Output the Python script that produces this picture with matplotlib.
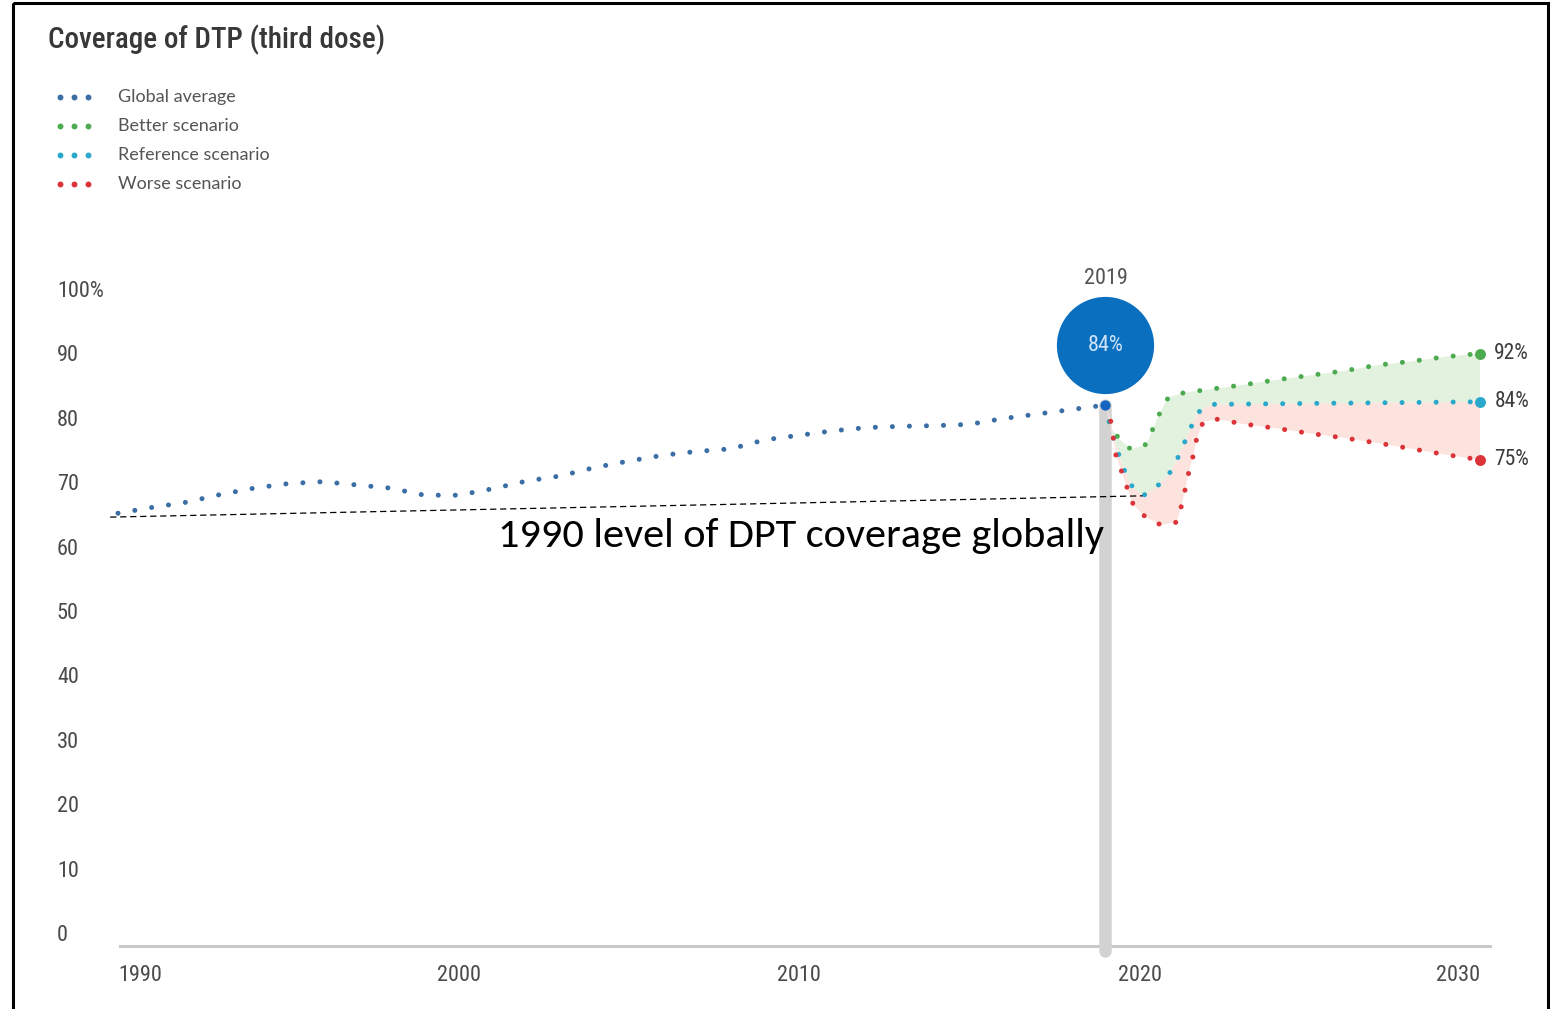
import os
import numpy as np
import matplotlib
matplotlib.use("Agg")
import matplotlib.pyplot as plt
from matplotlib import font_manager as fm
from matplotlib.patches import Rectangle

W, H = 1552, 1009

# ── data ────────────────────────────────────────────────────────────────
years = list(range(1990, 2020))
global_avg = [67.2, 68.1, 68.9, 70.1, 71.1, 71.8, 72.1, 71.6, 71.1, 70.0,
              70.0, 71.0, 72.2, 73.0, 74.3, 75.3, 76.2, 76.8, 77.2, 78.6,
              79.3, 80.0, 80.5, 80.7, 80.8, 81.0, 81.9, 82.6, 83.3, 84.0]

better_x = [2019, 2019.15, 2019.4, 2019.75, 2020.2, 2020.4, 2020.6, 2020.85, 2021.3,
            2022, 2023, 2024, 2025, 2026, 2027, 2028, 2029, 2030]
better = [84.0, 80.5, 78.8, 77.1, 77.9, 80.4, 82.8, 85.2, 85.9,
          86.4, 87.1, 87.9, 88.6, 89.3, 90.2, 90.8, 91.5, 92.0]

ref_x = [2019, 2019.2, 2019.5, 2019.8, 2020.1, 2020.5, 2020.85, 2021.1, 2021.3,
         2021.5, 2021.7, 2022.1, 2024, 2026, 2028, 2030]
ref = [84.0, 79.5, 74.5, 71.2, 69.9, 71.3, 73.1, 75.5, 77.9,
       80.4, 82.8, 84.1, 84.2, 84.3, 84.4, 84.5]

worse_x = [2019, 2019.15, 2019.31, 2019.48, 2019.64, 2019.82, 2020.16, 2020.62, 2021.09,
           2021.24, 2021.35, 2021.45, 2021.58, 2021.68, 2021.87, 2022.3,
           2023, 2024, 2025, 2026, 2027, 2028, 2029, 2030]
worse = [84.0, 81.7, 76.1, 73.6, 71.1, 68.5, 66.7, 65.4, 65.8,
         68.5, 71.1, 73.6, 76.2, 78.8, 81.4, 81.8,
         81.1, 80.4, 79.6, 78.9, 78.1, 77.2, 76.3, 75.5]

end_labels = ["92%", "84%", "75%"]
level_x = [1989.77, 2020.09]          # hand-drawn "1990 level" line
level_y = [66.6, 69.9]

xticks = [1990, 2000, 2010, 2020, 2030]
yticks = list(range(0, 101, 10))
ytick_labels = [str(v) for v in yticks[:-1]] + ["100%"]

legend_labels = ["Global average", "Better scenario", "Reference scenario", "Worse scenario"]

BLUE, GREEN, TEAL, RED = "#3a6ea5", "#4caa50", "#2aa8cc", "#dc3338"
BUBBLE = "#0b6fc0"


# ── fonts: a condensed face for the infographic text if one is installed ─
def font_file(*keys):
    for k in keys:
        for f in fm.fontManager.ttflist:
            if os.path.basename(f.fname).lower() == k.lower():
                return f.fname
    return None


names = {f.name for f in fm.fontManager.ttflist}
cond_reg = font_file("RobotoCondensed-Regular.ttf", "LiberationSansNarrow-Regular.ttf",
                     "DejaVuSansCondensed.ttf", "NotoSans-Condensed.ttf")
cond_bold = font_file("RobotoCondensed-Medium.ttf", "RobotoCondensed-Bold.ttf",
                      "LiberationSansNarrow-Bold.ttf", "DejaVuSansCondensed-Bold.ttf",
                      "NotoSans-CondensedMedium.ttf") or cond_reg


def cond(size, bold=False):
    path = cond_bold if bold else cond_reg
    if path:
        return fm.FontProperties(fname=path, size=size)
    return fm.FontProperties(family="DejaVu Sans", size=size * 0.8,
                             weight="bold" if bold else "normal")


legend_family = "Lato" if "Lato" in names else "DejaVu Sans"
note_family = next((n for n in ["Carlito", "Open Sans", "Noto Sans"] if n in names), "DejaVu Sans")

# ── figure ──────────────────────────────────────────────────────────────
fig = plt.figure(figsize=(W / 100, H / 100), dpi=100)
fig.patch.set_facecolor("white")

# overlay in pixel coords for the title, legend and frame
ov = fig.add_axes([0, 0, 1, 1], zorder=0)
ov.set_xlim(0, W)
ov.set_ylim(H, 0)
ov.axis("off")

ax = fig.add_axes([118 / W, (H - 946) / H, (1480 - 118) / W, (946 - 302) / H], zorder=1)
ax.patch.set_visible(False)
ax.set_xlim(1990, 2030)
ax.set_ylim(0, 100)
for s in ax.spines.values():
    s.set_visible(False)

ax.set_xticks(xticks)
ax.set_xticklabels([str(t) for t in xticks])
ax.set_yticks(yticks)
ax.set_yticklabels(ytick_labels)
ax.tick_params(axis="both", length=0)
ax.tick_params(axis="y", pad=44)
ax.tick_params(axis="x", pad=14)
for lab in ax.get_yticklabels():
    lab.set_fontproperties(cond(16))
    lab.set_color("#4a4a4a")
    lab.set_ha("left")
    lab.set_va("bottom")
xl = ax.get_xticklabels()
for lab in xl:
    lab.set_fontproperties(cond(16))
    lab.set_color("#4a4a4a")
xl[0].set_ha("left")
xl[-1].set_ha("right")
xl[-1].set_x(2030.3)

# baseline and the 2019 marker bar
ax.plot([1990.05, 2030.3], [0, 0], color="#c9c9c9", lw=2.2, clip_on=False, zorder=1)
ax.plot([2019, 2019], [-0.8, 84], color="#d2d2d2", lw=9, solid_capstyle="round",
        clip_on=False, zorder=1)

# scenario bands
ax.fill(np.r_[better_x, ref_x[::-1]], np.r_[better, ref[::-1]],
        color="#e3f2de", lw=0, zorder=1)
ax.fill(np.r_[ref_x, worse_x[::-1]], np.r_[ref, worse[::-1]],
        color="#fde3de", lw=0, zorder=1)

dots = dict(lw=3.6, ls=(0, (0.01, 3.4)), dash_capstyle="round", zorder=3, clip_on=False)
ax.plot(years, global_avg, color=BLUE, **dots)
ax.plot(better_x, better, color=GREEN, **dots)
ax.plot(ref_x, ref, color=TEAL, **dots)
ax.plot(worse_x, worse, color=RED, **dots)

# end points and labels
for xs, ys, col, lab in [(better_x, better, GREEN, end_labels[0]),
                         (ref_x, ref, TEAL, end_labels[1]),
                         (worse_x, worse, RED, end_labels[2])]:
    ax.scatter([xs[-1]], [ys[-1]], s=62, color=col, zorder=4, clip_on=False, linewidths=0)
    ax.text(xs[-1] + 0.42, ys[-1], lab, ha="left", va="center", color="#3c3c3c",
            fontproperties=cond(15.5))

# 2019 bubble
ax.scatter([2019], [global_avg[-1]], s=55, color="#1565c0", zorder=5, clip_on=False,
           linewidths=0)
ax.scatter([2019], [93.3], s=70 ** 2, color=BUBBLE, zorder=5, clip_on=False, linewidths=0)
ax.text(2019, 93.3, f"{global_avg[-1]:.0f}%", ha="center", va="center", color="#cfe4fa",
        fontproperties=cond(16), zorder=6)
ax.text(2019, 103.6, "2019", ha="center", va="center", color="#555555",
        fontproperties=cond(16), zorder=6, clip_on=False)

# hand-drawn 1990 level annotation
ax.plot(level_x, level_y, color="black", lw=0.9, ls=(0, (5, 3)), zorder=4, clip_on=False)
note = ax.text(2010.05, 63.6, "1990 level of DPT coverage globally", ha="center",
               va="center", color="black", fontsize=24, family=note_family, zorder=6)

# title and legend
ov.text(48, 40, "Coverage of DTP (third dose)", ha="left", va="center", color="#383838",
        fontproperties=cond(21, bold=True))
for i, (lab, col) in enumerate(zip(legend_labels, [BLUE, GREEN, TEAL, RED])):
    yy = 97 + i * 29
    ov.scatter([60, 74, 88], [yy] * 3, s=18, color=col, linewidths=0)
    ov.text(118, yy, lab, ha="left", va="center", color="#555555", fontsize=13,
            family=legend_family)

# frame
ov.add_patch(Rectangle((13, 3), 1535, 1012, fill=False, ec="black", lw=2.2, clip_on=False))

fig.canvas.draw()
bb = note.get_window_extent()
note.set_fontsize(note.get_fontsize() * 608 / bb.width)

fig.savefig("out.png", dpi=100, facecolor="white")
